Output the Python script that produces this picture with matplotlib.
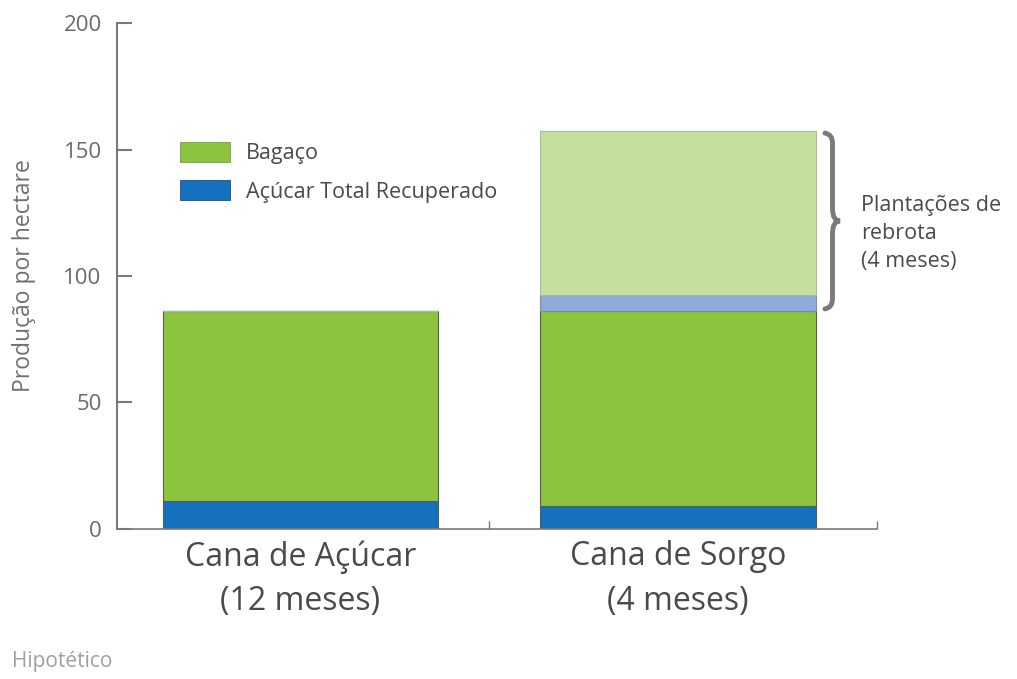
import numpy as np
import matplotlib
matplotlib.use("Agg")
import matplotlib.pyplot as plt
from matplotlib.path import Path
from matplotlib.patches import PathPatch, Patch

plt.rcParams['font.family'] = ['Open Sans', 'DejaVu Sans']

categories = ["Cana de Açúcar\n(12 meses)", "Cana de Sorgo\n(4 meses)"]
atr = [11, 9]            # Açúcar Total Recuperado
bagaco = [75, 77]        # Bagaço
rebrota_atr = [0, 6.5]   # rebrota (4 meses)
rebrota_bagaco = [0, 65]

GREEN = '#8dc43f'
BLUE = '#1570be'
LGREEN = '#c5e09e'
LBLUE = '#8faadc'
GRAY = '#7a7a7a'

fig = plt.figure(figsize=(10.17, 6.79), dpi=100)
ax = fig.add_axes([0.115, 0.221, 0.747, 0.745])

x = np.arange(len(categories))
w = 0.73
atr = np.array(atr)
bagaco = np.array(bagaco)
rebrota_atr = np.array(rebrota_atr)
rebrota_bagaco = np.array(rebrota_bagaco)

ec = '#55604a'
ax.bar(x, atr, w, color=BLUE, edgecolor=ec, linewidth=0.8, zorder=2)
ax.bar(x, bagaco, w, bottom=atr, color=GREEN, edgecolor=ec, linewidth=0.8, zorder=2)
base = atr + bagaco
ax.bar(x, rebrota_atr, w, bottom=base, color=LBLUE, edgecolor='#7f8f99', linewidth=0.8, zorder=2)
ax.bar(x, rebrota_bagaco, w, bottom=base + rebrota_atr, color=LGREEN, edgecolor='#a9b8a0', linewidth=0.8, zorder=2)

ax.set_xlim(-0.486, 1.527)
ax.set_ylim(0, 200)
ax.set_yticks([0, 50, 100, 150, 200])
ax.tick_params(axis='y', direction='in', length=11, width=1.5, color=GRAY,
               labelsize=16, labelcolor='#6a6a6a', pad=11)
ax.set_xticks([0.5, 1.527])
ax.set_xticklabels([])
ax.tick_params(axis='x', direction='in', length=6, width=1, color=GRAY)
for i, lab in enumerate(categories):
    ax.text(x[i], -4.5, lab, ha='center', va='top', fontsize=23, color='#4a4a4a',
            linespacing=1.45)

for s in ['top', 'right']:
    ax.spines[s].set_visible(False)
ax.spines['left'].set_color(GRAY)
ax.spines['left'].set_linewidth(1.5)
ax.spines['bottom'].set_color(GRAY)
ax.spines['bottom'].set_linewidth(1.2)

ax.set_ylabel("Produção por hectare", fontsize=16.5, color='#707070', labelpad=20)

handles = [Patch(facecolor=GREEN, edgecolor='#7a9a50', linewidth=0.6),
           Patch(facecolor=BLUE, edgecolor='#205080', linewidth=0.6)]
ax.legend(handles, ["Bagaço", "Açúcar Total Recuperado"], loc='upper left',
          bbox_to_anchor=(0.083, 0.765), frameon=False, fontsize=15.5,
          borderpad=0, borderaxespad=0,
          handlelength=2.3, handleheight=1.05, handletextpad=0.75,
          labelspacing=0.75, labelcolor='#4a4a4a')

# chave "}" ao lado da rebrota
y0 = base[1]
y1 = base[1] + rebrota_atr[1] + rebrota_bagaco[1]
bx = x[1] + w / 2 + 0.025
bw = 0.04
ym = (y0 + y1) / 2
h = 5
verts = [(bx, y1 - 1), (bx + bw / 2, y1 - 1.5), (bx + bw / 2, y1 - h),
         (bx + bw / 2, ym + h),
         (bx + bw / 2, ym), (bx + bw, ym),
         (bx + bw / 2, ym), (bx + bw / 2, ym - h),
         (bx + bw / 2, y0 + h),
         (bx + bw / 2, y0 + 1.5), (bx, y0 + 1)]
codes = [Path.MOVETO, Path.CURVE3, Path.CURVE3, Path.LINETO,
         Path.CURVE3, Path.CURVE3, Path.CURVE3, Path.CURVE3,
         Path.LINETO, Path.CURVE3, Path.CURVE3]
ax.add_patch(PathPatch(Path(verts, codes), facecolor='none', edgecolor=GRAY,
                       linewidth=3.5, capstyle='round', clip_on=False))
ax.text(bx + bw + 0.055, ym - 5, "Plantações de\nrebrota\n(4 meses)", ha='left', va='center',
        fontsize=15.5, color='#4a4a4a', linespacing=1.45, clip_on=False)

fig.text(0.012, 0.01, "Hipotético", fontsize=15, color='#a0a0a0', ha='left', va='bottom')

fig.savefig("out.png", dpi=100)
